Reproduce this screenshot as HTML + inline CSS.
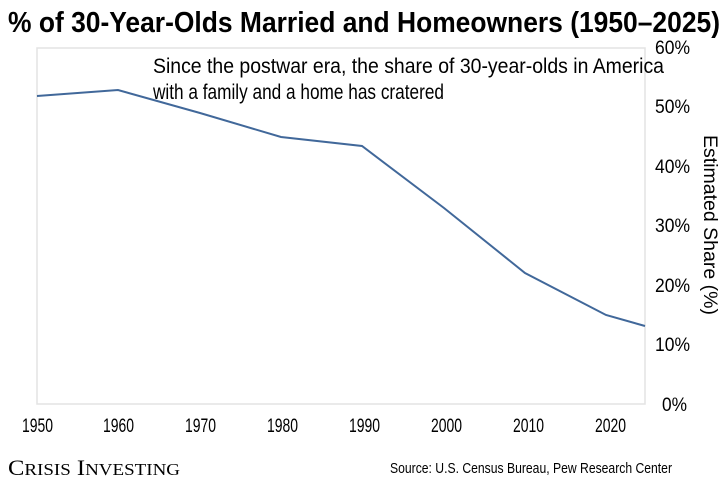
<!DOCTYPE html>
<html><head><meta charset="utf-8"><style>
html,body{margin:0;padding:0;background:#fff;}
svg{display:block;}
text{font-family:"Liberation Sans Narrow","Liberation Sans",sans-serif;fill:#000;}
</style></head><body>
<svg width="728" height="486" viewBox="0 0 728 486" xmlns="http://www.w3.org/2000/svg">
<text x="8" y="32" font-size="29" font-weight="bold" textLength="712" lengthAdjust="spacingAndGlyphs">% of 30-Year-Olds Married and Homeowners (1950–2025)</text>
<rect x="37" y="48" width="608" height="356" fill="none" stroke="#e3e3e3" stroke-width="1.5"/>
<text x="153" y="73" font-size="21" textLength="511" lengthAdjust="spacingAndGlyphs">Since the postwar era, the share of 30-year-olds in America</text>
<text x="153" y="99" font-size="21" textLength="291" lengthAdjust="spacingAndGlyphs">with a family and a home has cratered</text>
<polyline fill="none" stroke="#41689a" stroke-width="2" points="37,96 118,90 200,113 281,137 362,146 444,208 525,273 606,315 645,326"/>
<g font-size="19">
<text x="655" y="54" textLength="35" lengthAdjust="spacingAndGlyphs">60%</text>
<text x="655" y="113" textLength="35" lengthAdjust="spacingAndGlyphs">50%</text>
<text x="655" y="173" textLength="35" lengthAdjust="spacingAndGlyphs">40%</text>
<text x="655" y="232" textLength="35" lengthAdjust="spacingAndGlyphs">30%</text>
<text x="655" y="292" textLength="35" lengthAdjust="spacingAndGlyphs">20%</text>
<text x="655" y="351" textLength="35" lengthAdjust="spacingAndGlyphs">10%</text>
<text x="662" y="411" textLength="25" lengthAdjust="spacingAndGlyphs">0%</text>
</g>
<g font-size="19">
<text x="22" y="432" textLength="31" lengthAdjust="spacingAndGlyphs">1950</text>
<text x="103" y="432" textLength="31" lengthAdjust="spacingAndGlyphs">1960</text>
<text x="185" y="432" textLength="31" lengthAdjust="spacingAndGlyphs">1970</text>
<text x="267" y="432" textLength="31" lengthAdjust="spacingAndGlyphs">1980</text>
<text x="349" y="432" textLength="31" lengthAdjust="spacingAndGlyphs">1990</text>
<text x="431" y="432" textLength="31" lengthAdjust="spacingAndGlyphs">2000</text>
<text x="513" y="432" textLength="31" lengthAdjust="spacingAndGlyphs">2010</text>
<text x="595" y="432" textLength="31" lengthAdjust="spacingAndGlyphs">2020</text>
</g>
<text transform="translate(704,225) rotate(90)" font-size="19" text-anchor="middle" textLength="180" lengthAdjust="spacingAndGlyphs">Estimated Share (%)</text>
<text x="390" y="473" font-size="15" textLength="282" lengthAdjust="spacingAndGlyphs">Source: U.S. Census Bureau, Pew Research Center</text>
<text x="8" y="475" style="font-family:'Liberation Serif',serif" font-size="22" textLength="172" lengthAdjust="spacingAndGlyphs">C<tspan font-size="17">RISIS</tspan> I<tspan font-size="17">NVESTING</tspan></text>
</svg>
</body></html>
